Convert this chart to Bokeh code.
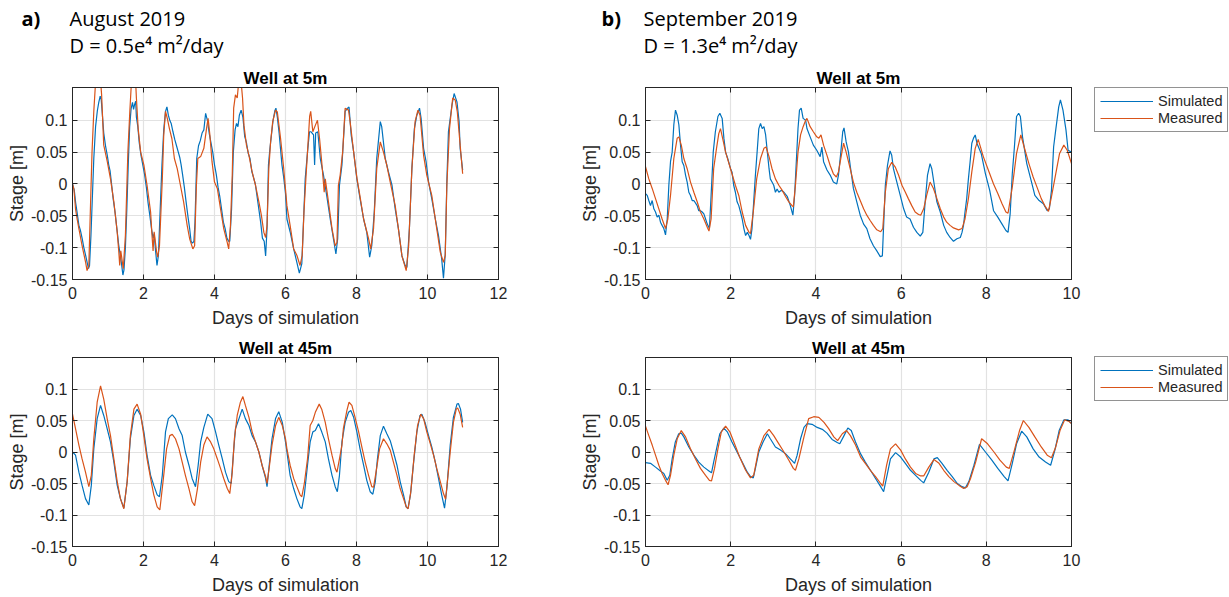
from bokeh.plotting import figure
from bokeh.models import (Range1d, FixedTicker, CustomJSTickFormatter, LinearAxis,
                          Label, Legend, LegendItem, Title, Spacer)
from bokeh.layouts import row, column
from bokeh.embed import file_html
from bokeh.resources import INLINE

# ---------------- data ----------------
x_ticks_aug = [0, 2, 4, 6, 8, 10, 12]
x_ticks_sep = [0, 2, 4, 6, 8, 10]
y_ticks = [-0.15, -0.1, -0.05, 0, 0.05, 0.1]
series_names = ["Simulated", "Measured"]
panel_titles = ["Well at 5m", "Well at 45m"]
x_label = "Days of simulation"
y_label = "Stage [m]"
headers = [("a)", "August 2019", "D = 0.5e\u2074 m\u00b2/day"),
           ("b)", "September 2019", "D = 1.3e\u2074 m\u00b2/day")]

# August 2019, well at 5 m
aug5_sim_t = [0.00,0.05,0.09,0.13,0.18,0.22,0.27,0.32,0.37,0.42,0.45,0.48,0.52,0.56,0.60,0.65,0.70,0.74,0.78,0.81,
              0.84,0.88,0.93,0.98,1.02,1.06,1.10,1.15,1.20,1.25,1.30,1.34,1.38,1.42,1.45,1.49,1.53,1.57,1.61,1.65,
              1.69,1.72,1.75,1.78,1.80,1.84,1.88,1.93,1.98,2.03,2.08,2.13,2.18,2.23,2.27,2.30,2.34,2.38,2.42,2.47,
              2.52,2.57,2.62,2.66,2.70,2.74,2.78,2.83,2.88,2.93,2.98,3.02,3.06,3.10,3.15,3.20,3.25,3.30,3.34,3.38,
              3.42,3.45,3.50,3.55,3.60,3.65,3.70,3.75,3.80,3.85,3.90,3.95,4.00,4.05,4.10,4.15,4.20,4.25,4.30,4.35,
              4.40,4.43,4.48,4.53,4.58,4.62,4.66,4.70,4.75,4.80,4.85,4.90,4.95,5.00,5.05,5.10,5.15,5.20,5.25,5.30,
              5.35,5.40,5.44,5.48,5.52,5.56,5.60,5.65,5.70,5.73,5.77,5.82,5.86,5.90,5.95,6.00,6.04,6.13,6.23,6.32,
              6.39,6.46,6.51,6.555,6.62,6.676,6.72,6.79,6.82,6.85,6.91,6.98,7.07,7.16,7.26,7.35,7.42,7.47,7.52,7.59,
              7.68,7.75,7.79,7.85,7.92,8.01,8.10,8.20,8.29,8.37,8.43,8.50,8.57,8.67,8.71,8.81,8.90,9.00,9.09,9.18,
              9.28,9.37,9.42,9.49,9.56,9.63,9.70,9.775,9.82,9.89,9.96,10.03,10.12,10.22,10.31,10.40,10.45,10.50,10.545,10.59,
              10.69,10.75,10.83,10.89,10.92,10.99]
aug5_sim = [0.000,-0.010,-0.030,-0.045,-0.065,-0.072,-0.085,-0.100,-0.112,-0.125,-0.133,-0.128,-0.080,-0.020,0.040,0.090,0.115,0.128,0.138,0.132,
            0.110,0.080,0.060,0.045,0.030,0.020,0.000,-0.025,-0.045,-0.070,-0.095,-0.110,-0.125,-0.143,-0.135,-0.100,-0.040,0.030,0.090,0.118,
            0.128,0.117,0.125,0.130,0.105,0.090,0.065,0.045,0.030,0.015,-0.005,-0.030,-0.050,-0.072,-0.085,-0.078,-0.105,-0.128,-0.112,-0.040,
            0.030,0.085,0.114,0.121,0.108,0.100,0.095,0.082,0.070,0.060,0.050,0.042,0.030,0.015,-0.005,-0.028,-0.050,-0.070,-0.090,-0.093,
            -0.090,-0.060,0.040,0.060,0.068,0.080,0.085,0.111,0.100,0.080,0.065,0.050,0.030,0.015,-0.005,-0.020,-0.040,-0.060,-0.070,-0.085,
            -0.090,-0.090,-0.040,0.050,0.085,0.095,0.090,0.108,0.116,0.105,0.075,0.065,0.048,0.040,0.020,0.010,0.000,-0.020,-0.040,-0.060,
            -0.085,-0.090,-0.113,-0.070,0.030,0.055,0.075,0.100,0.115,0.119,0.105,0.080,0.055,0.030,0.010,-0.015,-0.055,-0.075,-0.102,-0.123,
            -0.140,-0.125,-0.055,0.008,0.050,0.082,0.082,0.077,0.030,0.080,0.082,0.040,0.014,-0.018,-0.055,-0.086,-0.110,-0.086,-0.002,0.030,
            0.114,0.119,0.121,0.077,0.050,0.008,-0.023,-0.055,-0.076,-0.115,-0.097,-0.044,0.040,0.098,0.090,0.040,0.019,-0.002,-0.039,-0.070,
            -0.113,-0.128,-0.131,-0.070,0.024,0.087,0.108,0.119,0.103,0.056,0.035,0.003,-0.023,-0.055,-0.081,-0.118,-0.148,-0.110,0.003,0.082,
            0.124,0.142,0.129,0.098,0.056,0.022]
aug5_meas_t = [0.00,0.04,0.085,0.13,0.18,0.27,0.32,0.37,0.41,0.46,0.51,0.55,0.60,0.65,0.70,0.78,0.82,0.84,0.88,0.98,
               1.07,1.165,1.26,1.305,1.33,1.36,1.43,1.49,1.56,1.615,1.66,1.72,1.775,1.80,1.85,1.92,2.01,2.10,2.20,2.24,
               2.27,2.30,2.37,2.40,2.45,2.53,2.57,2.62,2.67,2.73,2.80,2.87,2.95,3.04,3.13,3.23,3.30,3.39,3.44,3.49,
               3.53,3.61,3.70,3.775,3.82,3.87,3.93,4.00,4.08,4.17,4.26,4.36,4.40,4.45,4.50,4.54,4.59,4.64,4.69,4.75,
               4.79,4.83,4.90,4.97,5.06,5.155,5.25,5.32,5.39,5.44,5.48,5.53,5.58,5.64,5.72,5.77,5.86,5.95,6.04,6.13,
               6.23,6.32,6.41,6.47,6.52,6.58,6.62,6.68,6.71,6.77,6.84,6.90,6.96,7.02,7.09,7.12,7.21,7.31,7.40,7.45,
               7.49,7.54,7.61,7.68,7.775,7.82,7.92,8.01,8.10,8.20,8.34,8.40,8.48,8.57,8.67,8.76,8.855,8.95,9.09,9.18,
               9.28,9.40,9.47,9.56,9.65,9.73,9.79,9.89,9.98,10.12,10.26,10.36,10.45,10.50,10.545,10.62,10.71,10.78,10.84,10.92,
               10.99]
aug5_meas = [0.000,-0.008,-0.039,-0.055,-0.070,-0.097,-0.110,-0.123,-0.136,-0.128,-0.028,0.050,0.114,0.160,0.175,0.170,0.140,0.114,0.061,0.035,
             0.008,-0.028,-0.076,-0.107,-0.128,-0.105,-0.133,-0.081,0.050,0.114,0.160,0.175,0.165,0.135,0.087,0.050,0.030,-0.002,-0.044,-0.081,
             -0.105,-0.075,-0.107,-0.115,-0.097,0.008,0.077,0.114,0.103,0.087,0.071,0.040,0.024,-0.002,-0.028,-0.065,-0.086,-0.102,-0.097,-0.002,
             0.040,0.043,0.056,0.087,0.103,0.077,0.035,0.003,-0.007,-0.039,-0.070,-0.092,-0.102,-0.065,0.014,0.119,0.140,0.135,0.165,0.160,
             0.135,0.092,0.061,0.045,0.019,-0.002,-0.028,-0.049,-0.076,-0.084,-0.065,0.024,0.066,0.098,0.116,0.113,0.072,0.024,-0.034,-0.065,
             -0.102,-0.112,-0.128,-0.112,-0.044,0.014,0.050,0.106,0.114,0.082,0.092,0.100,0.071,0.035,-0.013,0.008,-0.028,-0.070,-0.097,-0.092,
             -0.002,0.014,0.050,0.119,0.116,0.098,0.050,0.010,-0.020,-0.055,-0.086,-0.102,-0.070,0.024,0.066,0.050,0.029,0.003,-0.034,-0.070,
             -0.113,-0.136,-0.097,0.024,0.098,0.116,0.108,0.045,0.014,-0.018,-0.070,-0.107,-0.123,-0.112,-0.002,0.087,0.135,0.132,0.113,0.061,
             0.016]

# August 2019, well at 45 m
aug45_sim_t = [0.00,0.085,0.18,0.27,0.366,0.46,0.53,0.60,0.695,0.79,0.88,0.976,1.07,1.165,1.26,1.35,1.446,1.54,1.63,1.73,
               1.82,1.92,2.01,2.10,2.20,2.29,2.385,2.45,2.53,2.62,2.70,2.81,2.90,3.00,3.09,3.18,3.28,3.37,3.465,3.54,
               3.61,3.70,3.81,3.93,4.03,4.12,4.22,4.31,4.40,4.47,4.53,4.59,4.69,4.78,4.87,4.97,5.06,5.155,5.25,5.34,
               5.44,5.48,5.55,5.62,5.72,5.81,5.91,6.00,6.04,6.13,6.23,6.32,6.41,6.46,6.53,6.62,6.695,6.77,6.84,6.93,
               7.02,7.12,7.21,7.31,7.40,7.46,7.52,7.59,7.68,7.775,7.84,7.92,8.01,8.10,8.20,8.29,8.385,8.46,8.53,8.59,
               8.67,8.76,8.855,8.95,9.04,9.14,9.23,9.325,9.40,9.45,9.52,9.61,9.70,9.79,9.84,9.93,10.03,10.12,10.22,10.31,
               10.40,10.48,10.545,10.64,10.73,10.83,10.87,10.93,10.99]
aug45_sim = [0.000,-0.005,-0.032,-0.053,-0.074,-0.084,-0.053,0.005,0.053,0.074,0.058,0.037,0.016,-0.016,-0.053,-0.074,-0.089,-0.047,0.021,0.058,
             0.068,0.058,0.032,-0.005,-0.037,-0.053,-0.068,-0.071,-0.037,0.032,0.053,0.059,0.053,0.037,0.026,0.000,-0.021,-0.042,-0.055,-0.021,
             0.016,0.039,0.060,0.053,0.032,0.011,-0.011,-0.032,-0.047,-0.050,-0.005,0.037,0.053,0.068,0.053,0.042,0.026,0.016,0.000,-0.021,
             -0.042,-0.055,-0.016,0.021,0.053,0.064,0.047,0.016,0.000,-0.037,-0.058,-0.074,-0.087,-0.090,-0.068,-0.021,0.016,0.032,0.034,0.045,
             0.032,0.016,-0.011,-0.037,-0.055,-0.063,-0.037,0.016,0.047,0.063,0.066,0.055,0.032,0.005,-0.021,-0.045,-0.063,-0.067,-0.047,-0.011,
             0.026,0.041,0.029,0.018,0.000,-0.021,-0.047,-0.068,-0.087,-0.090,-0.068,-0.016,0.032,0.058,0.060,0.047,0.026,0.008,-0.016,-0.042,
             -0.068,-0.089,-0.058,0.011,0.055,0.076,0.077,0.068,0.047]
aug45_meas_t = [0.00,0.085,0.18,0.27,0.366,0.46,0.53,0.60,0.695,0.79,0.88,0.976,1.07,1.165,1.26,1.35,1.446,1.54,1.63,1.73,
                1.82,1.92,2.01,2.10,2.20,2.29,2.385,2.46,2.55,2.65,2.74,2.81,2.90,3.00,3.09,3.18,3.28,3.37,3.44,3.52,
                3.61,3.70,3.79,3.89,3.98,4.08,4.17,4.26,4.36,4.43,4.50,4.56,4.64,4.73,4.80,4.87,4.97,5.06,5.155,5.25,
                5.34,5.44,5.48,5.55,5.62,5.72,5.81,5.91,6.00,6.04,6.13,6.23,6.32,6.41,6.46,6.53,6.62,6.695,6.77,6.84,
                6.95,7.02,7.12,7.21,7.31,7.40,7.45,7.52,7.59,7.63,7.73,7.79,7.87,7.96,8.06,8.15,8.245,8.34,8.43,8.48,
                8.55,8.65,8.76,8.855,8.95,9.04,9.14,9.23,9.325,9.40,9.455,9.53,9.625,9.72,9.81,9.89,9.98,10.08,10.17,10.26,
                10.36,10.45,10.51,10.56,10.64,10.73,10.81,10.85,10.92,10.99]
aug45_meas = [0.060,0.037,0.011,-0.011,-0.032,-0.055,-0.037,0.021,0.079,0.105,0.084,0.053,0.026,-0.011,-0.047,-0.074,-0.090,-0.047,0.026,0.068,
              0.076,0.060,0.026,-0.011,-0.042,-0.068,-0.087,-0.092,-0.047,0.005,0.026,0.028,0.021,0.005,-0.016,-0.037,-0.058,-0.079,-0.085,-0.058,
              -0.016,0.011,0.024,0.016,0.005,-0.011,-0.026,-0.042,-0.058,-0.066,-0.032,0.021,0.058,0.079,0.088,0.074,0.055,0.032,0.016,0.000,
              -0.021,-0.039,-0.050,-0.021,0.011,0.042,0.055,0.042,0.021,0.005,-0.021,-0.042,-0.055,-0.068,-0.071,-0.050,-0.011,0.042,0.050,0.063,
              0.076,0.068,0.047,0.021,-0.005,-0.026,-0.032,-0.011,0.011,0.037,0.066,0.079,0.074,0.055,0.032,0.008,-0.016,-0.037,-0.055,-0.056,
              -0.032,0.005,0.021,0.013,0.003,-0.016,-0.037,-0.058,-0.074,-0.087,-0.090,-0.063,-0.005,0.042,0.060,0.053,0.032,0.013,-0.005,-0.026,
              -0.047,-0.066,-0.075,-0.047,0.000,0.047,0.068,0.070,0.060,0.039]

# September 2019, well at 5 m
sep5_sim_t = [0.00,0.04,0.078,0.117,0.157,0.196,0.235,0.274,0.313,0.352,0.39,0.43,0.47,0.51,0.548,0.587,0.626,0.665,0.704,0.744,
              0.783,0.822,0.861,0.90,0.94,0.978,1.017,1.056,1.096,1.135,1.213,1.25,1.29,1.33,1.37,1.41,1.45,1.50,1.54,1.59,
              1.64,1.70,1.745,1.80,1.84,1.88,1.93,1.996,2.03,2.07,2.11,2.15,2.19,2.23,2.27,2.31,2.35,2.39,2.43,2.465,
              2.50,2.54,2.58,2.62,2.66,2.70,2.74,2.78,2.82,2.86,2.90,2.93,2.97,3.01,3.05,3.09,3.13,3.19,3.25,3.33,
              3.40,3.46,3.50,3.54,3.58,3.615,3.655,3.70,3.76,3.79,3.865,3.94,4.02,4.10,4.14,4.18,4.26,4.335,4.41,4.49,
              4.53,4.585,4.63,4.66,4.71,4.765,4.805,4.88,4.96,5.04,5.12,5.195,5.27,5.35,5.43,5.51,5.56,5.59,5.63,5.68,
              5.74,5.78,5.82,5.90,5.98,6.06,6.13,6.21,6.29,6.37,6.45,6.51,6.565,6.62,6.68,6.72,6.78,6.84,6.92,7.00,
              7.07,7.15,7.23,7.31,7.39,7.43,7.465,7.50,7.54,7.58,7.62,7.66,7.70,7.74,7.78,7.88,7.98,8.08,8.17,8.27,
              8.37,8.46,8.51,8.56,8.61,8.66,8.71,8.76,8.80,8.85,8.95,9.05,9.14,9.24,9.34,9.43,9.48,9.53,9.58,9.63,
              9.70,9.74,9.80,9.87,9.92,10.00]
sep5_sim = [-0.015,-0.018,-0.026,-0.034,-0.026,-0.039,-0.044,-0.052,-0.049,-0.060,-0.065,-0.070,-0.080,-0.055,-0.002,0.035,0.050,0.093,0.116,0.108,
            0.093,0.061,0.035,0.029,0.014,0.003,-0.013,-0.018,-0.026,-0.026,-0.034,-0.042,-0.042,-0.044,-0.047,-0.055,-0.063,-0.070,-0.018,0.050,
            0.082,0.106,0.111,0.103,0.072,0.050,0.040,0.024,0.019,-0.002,-0.013,-0.028,-0.034,-0.044,-0.055,-0.070,-0.081,-0.076,-0.081,-0.087,
            -0.070,-0.028,0.014,0.050,0.087,0.095,0.087,0.090,0.077,0.050,0.024,0.008,0.003,-0.002,-0.013,-0.008,-0.013,-0.010,-0.013,-0.020,
            -0.034,-0.049,-0.018,0.035,0.087,0.116,0.119,0.103,0.100,0.087,0.074,0.061,0.053,0.043,0.058,0.035,0.022,0.014,0.003,0.000,
            0.014,0.050,0.082,0.088,0.066,0.050,0.029,-0.007,-0.028,-0.049,-0.063,-0.070,-0.086,-0.097,-0.105,-0.114,-0.113,-0.065,-0.002,0.029,
            0.052,0.045,0.024,0.003,-0.018,-0.039,-0.052,-0.055,-0.068,-0.076,-0.082,-0.076,-0.028,0.014,0.032,0.024,-0.002,-0.028,-0.044,-0.065,
            -0.076,-0.084,-0.090,-0.086,-0.084,-0.076,-0.065,-0.044,-0.023,0.008,0.035,0.064,0.072,0.077,0.064,0.048,0.016,-0.010,-0.042,-0.052,
            -0.063,-0.073,-0.076,-0.047,0.016,0.058,0.106,0.111,0.106,0.074,0.032,0.006,-0.018,-0.026,-0.031,-0.042,-0.039,-0.010,0.058,0.085,
            0.121,0.132,0.116,0.085,0.053,0.050]
sep5_meas_t = [0.00,0.078,0.157,0.235,0.313,0.39,0.47,0.524,0.587,0.665,0.744,0.783,0.84,0.90,0.978,1.056,1.135,1.213,1.29,1.37,
               1.45,1.49,1.54,1.60,1.667,1.72,1.76,1.82,1.88,1.96,2.03,2.11,2.19,2.27,2.35,2.43,2.465,2.53,2.61,2.70,
               2.78,2.83,2.90,2.97,3.05,3.13,3.21,3.29,3.365,3.44,3.47,3.52,3.58,3.64,3.70,3.76,3.79,3.865,3.94,4.02,
               4.07,4.12,4.18,4.26,4.335,4.41,4.48,4.53,4.585,4.65,4.71,4.805,4.88,4.96,5.04,5.12,5.195,5.27,5.35,5.43,
               5.52,5.57,5.63,5.70,5.78,5.86,5.94,6.02,6.10,6.17,6.25,6.33,6.41,6.46,6.53,6.60,6.68,6.76,6.84,6.92,
               7.00,7.07,7.15,7.23,7.35,7.43,7.50,7.58,7.66,7.74,7.81,7.93,8.08,8.17,8.27,8.37,8.46,8.51,8.61,8.71,
               8.81,8.91,9.00,9.10,9.19,9.29,9.39,9.46,9.53,9.63,9.72,9.82,9.90,10.00]
sep5_meas = [0.027,0.008,-0.007,-0.023,-0.039,-0.055,-0.070,-0.055,-0.018,0.040,0.072,0.074,0.061,0.040,0.024,0.003,-0.013,-0.028,-0.044,-0.055,
             -0.068,-0.074,-0.055,0.024,0.056,0.079,0.087,0.069,0.050,0.032,0.016,-0.002,-0.018,-0.044,-0.065,-0.076,-0.078,-0.044,0.008,0.040,
             0.056,0.058,0.043,0.024,0.008,-0.002,-0.010,-0.020,-0.028,-0.034,-0.036,-0.002,0.050,0.077,0.090,0.100,0.103,0.090,0.082,0.074,
             0.072,0.077,0.061,0.045,0.029,0.016,0.011,0.019,0.040,0.064,0.050,0.024,0.003,-0.013,-0.026,-0.039,-0.049,-0.057,-0.065,-0.072,
             -0.075,-0.070,-0.013,0.024,0.034,0.027,0.014,-0.002,-0.013,-0.023,-0.034,-0.044,-0.048,-0.049,-0.039,-0.018,0.003,-0.007,-0.023,-0.039,
             -0.052,-0.060,-0.065,-0.069,-0.072,-0.070,-0.055,-0.023,0.019,0.056,0.070,0.043,0.016,0.000,-0.015,-0.031,-0.044,-0.046,-0.005,0.048,
             0.077,0.053,0.032,0.011,-0.005,-0.023,-0.036,-0.043,-0.020,0.016,0.048,0.061,0.053,0.032]

# September 2019, well at 45 m
sep45_sim_t = [0.00,0.117,0.235,0.35,0.43,0.51,0.57,0.626,0.70,0.78,0.84,0.90,1.017,1.135,1.25,1.37,1.49,1.55,1.60,1.667,
               1.745,1.84,1.92,2.03,2.15,2.27,2.39,2.465,2.53,2.58,2.66,2.76,2.86,2.93,3.05,3.17,3.29,3.40,3.50,3.56,
               3.64,3.72,3.795,3.91,4.03,4.15,4.26,4.38,4.50,4.56,4.66,4.75,4.83,4.93,5.05,5.16,5.28,5.40,5.52,5.59,
               5.67,5.75,5.87,5.99,6.10,6.22,6.34,6.46,6.53,6.65,6.77,6.85,6.96,7.08,7.20,7.32,7.43,7.51,7.59,7.71,
               7.84,7.98,8.13,8.27,8.42,8.51,8.61,8.71,8.83,8.95,9.10,9.24,9.39,9.51,9.61,9.71,9.82,9.92,10.00]
sep45_sim = [-0.017,-0.018,-0.024,-0.030,-0.034,-0.045,-0.037,-0.011,0.016,0.029,0.030,0.024,0.008,-0.005,-0.016,-0.024,-0.030,-0.033,-0.016,0.005,
             0.029,0.038,0.032,0.016,0.000,-0.016,-0.032,-0.039,-0.041,-0.026,0.000,0.016,0.029,0.021,0.008,0.003,-0.003,-0.011,-0.018,-0.005,
             0.021,0.039,0.045,0.044,0.039,0.036,0.030,0.020,0.015,0.013,0.026,0.038,0.034,0.016,-0.003,-0.016,-0.029,-0.042,-0.055,-0.063,
             -0.037,-0.011,-0.001,-0.008,-0.018,-0.029,-0.037,-0.045,-0.049,-0.032,-0.011,-0.009,-0.018,-0.029,-0.039,-0.050,-0.055,-0.057,-0.047,-0.021,
             0.012,0.000,-0.013,-0.026,-0.039,-0.046,-0.018,0.013,0.033,0.024,0.005,-0.008,-0.016,-0.021,0.003,0.034,0.051,0.051,0.045]
sep45_meas_t = [0.00,0.078,0.157,0.235,0.313,0.39,0.47,0.53,0.587,0.665,0.744,0.84,0.94,1.056,1.174,1.29,1.41,1.50,1.55,1.62,
                1.70,1.78,1.88,1.98,2.09,2.21,2.35,2.465,2.54,2.66,2.78,2.90,3.01,3.13,3.25,3.365,3.47,3.52,3.60,3.72,
                3.83,3.95,4.07,4.19,4.30,4.42,4.51,4.62,4.72,4.81,4.93,5.05,5.16,5.28,5.40,5.52,5.57,5.66,5.75,5.87,
                5.99,6.10,6.22,6.34,6.46,6.53,6.65,6.77,6.89,7.00,7.12,7.24,7.36,7.47,7.55,7.63,7.75,7.89,8.03,8.18,
                8.32,8.47,8.54,8.66,8.78,8.87,9.00,9.14,9.29,9.43,9.53,9.63,9.73,9.84,9.93,10.00]
sep45_meas = [0.041,0.026,0.011,-0.005,-0.021,-0.034,-0.045,-0.052,-0.037,-0.005,0.021,0.034,0.024,0.005,-0.011,-0.026,-0.037,-0.045,-0.046,-0.026,
              0.005,0.032,0.041,0.032,0.013,-0.008,-0.029,-0.041,-0.037,0.005,0.026,0.036,0.026,0.013,0.000,-0.013,-0.026,-0.029,-0.011,0.024,
              0.053,0.056,0.055,0.047,0.037,0.024,0.018,0.029,0.034,0.026,0.011,-0.008,-0.018,-0.029,-0.039,-0.050,-0.054,-0.021,0.005,0.013,
              0.003,-0.011,-0.024,-0.034,-0.038,-0.038,-0.024,-0.012,-0.018,-0.029,-0.039,-0.047,-0.053,-0.058,-0.055,-0.042,-0.016,0.021,0.013,0.000,
              -0.013,-0.024,-0.026,0.003,0.034,0.050,0.039,0.024,0.008,-0.005,-0.009,0.008,0.034,0.051,0.049,0.045]

# ---------------- styling ----------------
BLUE = "#0072BD"
ORANGE = "#D95319"
INK = "#262626"
GRID = "#e2e2e2"
FONT = "Liberation Sans"
HEAD_FONT = "Open Sans"

FMT = "if (Math.abs(tick) < 1e-9) { return '0'; } return String(parseFloat(tick.toFixed(2)));"


def make_panel(w, h, bl, br, bt, bb, xmax, ytop, xt, title):
    p = figure(width=w, height=h, output_backend="svg", toolbar_location=None,
               x_range=Range1d(0, xmax), y_range=Range1d(-0.15, ytop),
               min_border_left=bl, min_border_right=br, min_border_top=bt, min_border_bottom=bb,
               background_fill_color="white", border_fill_color="white")
    p.title = Title(text=title, align="center", text_font=FONT, text_font_size="17px",
                    text_font_style="bold", text_color="black", standoff=0)
    p.outline_line_color = INK
    p.outline_line_width = 1
    p.xaxis.ticker = FixedTicker(ticks=xt)
    p.yaxis.ticker = FixedTicker(ticks=y_ticks)
    for ax in (p.xaxis[0], p.yaxis[0]):
        ax.formatter = CustomJSTickFormatter(code=FMT)
        ax.major_tick_in = 5
        ax.major_tick_out = 0
        ax.minor_tick_line_color = None
        ax.axis_line_color = INK
        ax.major_tick_line_color = INK
        ax.major_label_text_font = FONT
        ax.major_label_text_font_size = "16px"
        ax.major_label_text_color = INK
        ax.axis_label_text_font = FONT
        ax.axis_label_text_font_size = "18px"
        ax.axis_label_text_font_style = "normal"
        ax.axis_label_text_color = INK
    p.xaxis.major_label_standoff = 7
    p.yaxis.major_label_standoff = 5
    p.xaxis.axis_label = x_label
    p.xaxis.axis_label_standoff = 6
    p.yaxis.axis_label = y_label
    p.yaxis.axis_label_standoff = 1
    p.xgrid.grid_line_color = GRID
    p.ygrid.grid_line_color = GRID
    p.xgrid.grid_line_width = 1.2
    p.ygrid.grid_line_width = 1.2
    for loc, tk in (("above", xt), ("right", y_ticks)):
        ax = LinearAxis(ticker=FixedTicker(ticks=tk), major_tick_in=5, major_tick_out=0,
                        minor_tick_line_color=None, axis_line_color=INK, major_tick_line_color=INK,
                        major_label_text_color=None, major_label_text_font_size="1px",
                        major_label_standoff=0)
        p.add_layout(ax, loc)
    return p


def draw(p, t1, v1, t2, v2):
    r1 = p.line(t1, v1, line_color=BLUE, line_width=1.2)
    r2 = p.line(t2, v2, line_color=ORANGE, line_width=1.2)
    return r1, r2


def legend_box(t1, v1, t2, v2):
    """Small strip to the right of a September panel that carries its legend.
    Its x range lies beyond the data, so only the legend shows."""
    lf = figure(width=134, height=46, title=None, output_backend="svg", toolbar_location=None,
                x_range=Range1d(20, 21), y_range=Range1d(-0.15, 0.15),
                x_axis_type=None, y_axis_type=None, min_border=0,
                background_fill_color="white", border_fill_color="white")
    lf.outline_line_color = None
    lf.xgrid.visible = False
    lf.ygrid.visible = False
    r1 = lf.line(t1, v1, line_color=BLUE, line_width=1.2)
    r2 = lf.line(t2, v2, line_color=ORANGE, line_width=1.2)
    leg = Legend(items=[LegendItem(label=series_names[0], renderers=[r1]),
                        LegendItem(label=series_names[1], renderers=[r2])],
                 location="top_left", glyph_width=53, glyph_height=16, label_height=16,
                 label_standoff=5, padding=5, spacing=1, margin=0,
                 label_text_font=FONT, label_text_font_size="14.5px", label_text_color=INK,
                 border_line_color=INK, border_line_width=1,
                 background_fill_color="white", background_fill_alpha=1.0)
    lf.add_layout(leg)
    return lf


# ---- header strip (panel letters, months, diffusivity) ----
HW, HH = 1228, 60
head = figure(width=HW, height=HH, output_backend="svg", toolbar_location=None,
              x_range=Range1d(0, HW), y_range=Range1d(HH, 0),
              x_axis_type=None, y_axis_type=None, min_border=0,
              background_fill_color="white", border_fill_color="white")
head.outline_line_color = None
head.xgrid.visible = False
head.ygrid.visible = False
for (letter, month, diff), lx, tx in zip(headers, (21, 601), (69, 643)):
    head.add_layout(Label(x=lx, y=18, text=letter, text_font=HEAD_FONT, text_font_size="20px",
                          text_font_style="bold", text_baseline="alphabetic", text_color="black"))
    head.add_layout(Label(x=tx, y=18, text=month, text_font=HEAD_FONT, text_font_size="20px",
                          text_baseline="alphabetic", text_color="black"))
    head.add_layout(Label(x=tx, y=45, text=diff, text_font=HEAD_FONT, text_font_size="20px",
                          text_baseline="alphabetic", text_color="black"))

TOP_Y = 0.1515

pA1 = make_panel(570, 274, 72, 72, 27, 55, 12, TOP_Y, x_ticks_aug, panel_titles[0])
draw(pA1, aug5_sim_t, aug5_sim, aug5_meas_t, aug5_meas)

pB1 = make_panel(524, 274, 75, 23, 27, 55, 10, TOP_Y, x_ticks_sep, panel_titles[0])
draw(pB1, sep5_sim_t, sep5_sim, sep5_meas_t, sep5_meas)
lg1 = column(Spacer(width=134, height=27),
             legend_box(sep5_sim_t, sep5_sim, sep5_meas_t, sep5_meas), spacing=0)

pA2 = make_panel(570, 263, 72, 72, 23, 50, 12, 0.15, x_ticks_aug, panel_titles[1])
draw(pA2, aug45_sim_t, aug45_sim, aug45_meas_t, aug45_meas)

pB2 = make_panel(524, 263, 75, 23, 23, 50, 10, 0.15, x_ticks_sep, panel_titles[1])
draw(pB2, sep45_sim_t, sep45_sim, sep45_meas_t, sep45_meas)
lg2 = column(Spacer(width=134, height=22),
             legend_box(sep45_sim_t, sep45_sim, sep45_meas_t, sep45_meas), spacing=0)

layout = column(head,
                row(pA1, pB1, lg1, spacing=0),
                row(pA2, pB2, lg2, spacing=0),
                spacing=0)

with open("out.html", "w") as f:
    f.write(file_html(layout, INLINE))
